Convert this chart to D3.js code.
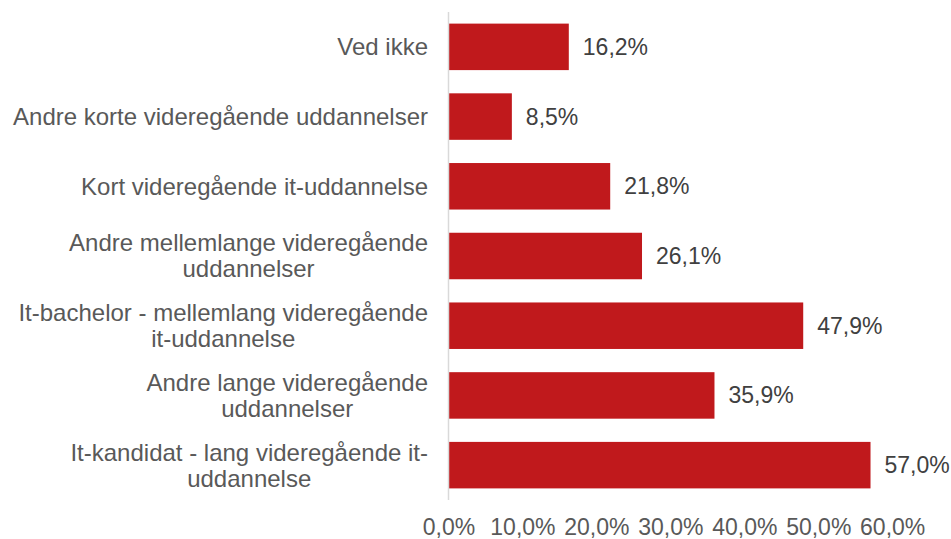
<!DOCTYPE html>
<html>
<head>
<meta charset="utf-8">
<script src="https://cdn.jsdelivr.net/npm/d3@7"></script>
<style>
  body { margin: 0; background: #fff; }
  text { font-family: "Liberation Sans", Arial, sans-serif; fill: #595959; }
  text.val { fill: #404040; }
</style>
</head>
<body>
<div id="chart"></div>
<script>
// data
var categories = [
  ["Ved ikke"],
  ["Andre korte videregående uddannelser"],
  ["Kort videregående it-uddannelse"],
  ["Andre mellemlange videregående", "uddannelser"],
  ["It-bachelor - mellemlang videregående", "it-uddannelse"],
  ["Andre lange videregående", "uddannelser"],
  ["It-kandidat - lang videregående it-", "uddannelse"]
];
var values = [16.2, 8.5, 21.8, 26.1, 47.9, 35.9, 57.0];
var tickValues = [0, 10, 20, 30, 40, 50, 60];

var width = 951, height = 539;
var plotLeft = 449, plotRight = 892.7, plotTop = 12, plotBottom = 500;

var fmt = function(v) { return v.toFixed(1).replace(".", ",") + "%"; };

var svg = d3.select("#chart").append("svg")
    .attr("width", width)
    .attr("height", height);

var x = d3.scaleLinear().domain([0, 60]).range([plotLeft, plotRight]);
var y = d3.scaleBand().domain(d3.range(values.length)).range([plotTop, plotBottom])
    .paddingInner(0.333)
    .paddingOuter(0.1665);

// bars
svg.selectAll("rect.bar")
    .data(values)
  .enter().append("rect")
    .attr("class", "bar")
    .attr("x", x(0))
    .attr("y", function(d, i) { return y(i); })
    .attr("width", function(d) { return x(d) - x(0); })
    .attr("height", y.bandwidth())
    .attr("fill", "#c0191c");

// vertical axis line
svg.append("line")
    .attr("x1", x(0) - 0.5).attr("x2", x(0) - 0.5)
    .attr("y1", plotTop).attr("y2", plotBottom)
    .attr("stroke", "#d9d9d9")
    .attr("stroke-width", 1.5);

// value labels
svg.selectAll("text.val")
    .data(values)
  .enter().append("text")
    .attr("class", "val")
    .attr("x", function(d) { return x(d) + 14; })
    .attr("y", function(d, i) { return y(i) + y.bandwidth() / 2; })
    .attr("dy", "0.35em")
    .style("font-size", "23px")
    .text(fmt);

// category labels, right aligned block, centred lines
var lineH = 26;
categories.forEach(function(lines, i) {
  var cy = y(i) + y.bandwidth() / 2;
  var g = svg.append("text")
      .attr("text-anchor", "middle")
      .style("font-size", "24px");
  var spans = lines.map(function(l, j) {
    return g.append("tspan")
        .attr("y", cy + (j - (lines.length - 1) / 2) * lineH)
        .attr("dy", "0.35em")
        .text(l);
  });
  var maxW = d3.max(spans, function(s) { return s.node().getComputedTextLength(); });
  spans.forEach(function(s) { s.attr("x", 428 - maxW / 2); });
});

// bottom tick labels
svg.selectAll("text.tick")
    .data(tickValues)
  .enter().append("text")
    .attr("class", "tick")
    .attr("x", function(d) { return x(d); })
    .attr("y", 527)
    .attr("dy", "0.35em")
    .attr("text-anchor", "middle")
    .style("font-size", "23px")
    .text(fmt);
</script>
</body>
</html>
